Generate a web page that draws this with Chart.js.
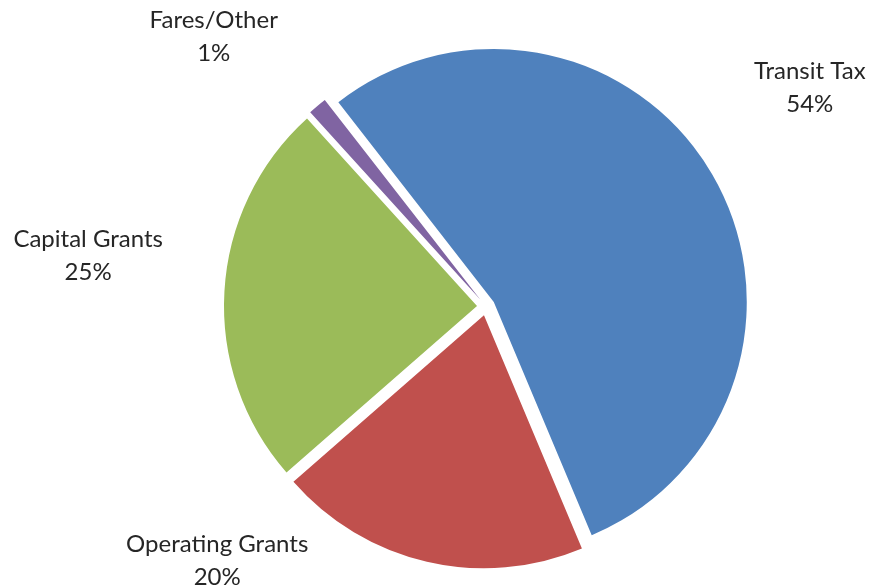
<!DOCTYPE html>
<html>
<head>
<meta charset="utf-8">
<script src="https://cdn.jsdelivr.net/npm/chart.js@4"></script>
<style>
html,body{margin:0;padding:0;background:#fff;}
canvas{display:block;}
</style>
</head>
<body>
<canvas id="c" width="874" height="588"></canvas>
<script>
const categories = ["Transit Tax", "Operating Grants", "Capital Grants", "Fares/Other"];
const values = [54.2, 19.9, 24.7, 1.2];
const colors = ["#4F81BD", "#C0504D", "#9BBB59", "#8064A2"];
// label placement (polar, relative to pie centre): angle clockwise from north (deg), distance (px)
const labelAngles = [55.9, 226.6, 277.2, 314.7];
const labelDistances = [391, 370, 401, 383];
const explode = 9; // px each slice is pulled out

const total = values.reduce((a, b) => a + b, 0);
const percentLabels = values.map(v => Math.round(v / total * 100) + "%");

function pieCenter(chart) {
  const a = chart.chartArea;
  return { x: (a.left + a.right) / 2, y: (a.top + a.bottom) / 2 };
}

const explodePlugin = {
  id: "explode",
  beforeDatasetsDraw(chart) {
    const c = pieCenter(chart);
    chart.getDatasetMeta(0).data.forEach(arc => {
      const mid = (arc.startAngle + arc.endAngle) / 2;
      arc.x = c.x + Math.cos(mid) * explode;
      arc.y = c.y + Math.sin(mid) * explode;
    });
  }
};

const labelPlugin = {
  id: "outLabels",
  afterDatasetsDraw(chart) {
    const ctx = chart.ctx;
    const c = pieCenter(chart);
    const meta = chart.getDatasetMeta(0);
    ctx.save();
    ctx.font = "24px Lato";
    ctx.fillStyle = "#262626";
    ctx.textAlign = "center";
    ctx.textBaseline = "middle";
    meta.data.forEach((arc, i) => {
      const a = labelAngles[i] * Math.PI / 180;
      const d = labelDistances[i];
      const x = c.x + d * Math.sin(a);
      const y = c.y - d * Math.cos(a);
      ctx.fillText(categories[i], x, y - 16.5);
      ctx.fillText(percentLabels[i], x, y + 16.5);
    });
    ctx.restore();
  }
};

new Chart(document.getElementById("c"), {
  type: "pie",
  data: {
    labels: categories,
    datasets: [{
      data: values,
      backgroundColor: colors,
      borderWidth: 0,
      hoverOffset: 0
    }]
  },
  options: {
    responsive: false,
    animation: false,
    rotation: -37.9,
    layout: { padding: { left: 150, right: 52, top: 53.5, bottom: 28.5 } },
    plugins: {
      legend: { display: false },
      tooltip: { enabled: false }
    },
    events: []
  },
  plugins: [explodePlugin, labelPlugin]
});
</script>
</body>
</html>
